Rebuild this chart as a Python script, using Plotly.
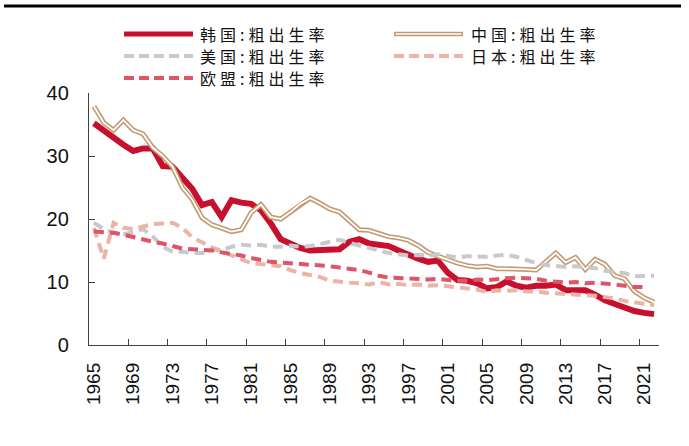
import plotly.graph_objects as go

# ---------------- data ----------------
years = list(range(1965, 2023))

korea = [35.2, 34.0, 32.9, 31.8, 30.8, 31.2, 31.2, 28.4, 28.3, 26.6,
         24.8, 22.2, 22.7, 20.3, 23.0, 22.6, 22.4, 21.4, 19.3, 16.8,
         16.1, 15.4, 15.0, 15.1, 15.1, 15.2, 16.4, 16.8, 16.1, 16.0,
         15.7, 15.0, 14.3, 13.7, 13.2, 13.4, 11.5, 10.3, 10.2, 9.8,
         9.0, 9.2, 10.1, 9.4, 9.1, 9.4, 9.4, 9.6, 8.7, 8.7,
         8.7, 8.0, 7.1, 6.5, 5.9, 5.4, 5.1, 4.9]

china = [37.9, 35.3, 34.1, 35.7, 34.1, 33.5, 31.3, 30.0, 28.3, 25.0,
         23.1, 20.2, 19.1, 18.5, 18.0, 18.3, 21.0, 22.3, 20.3, 20.0,
         21.1, 22.4, 23.3, 22.5, 21.6, 21.1, 19.7, 18.3, 18.2, 17.7,
         17.2, 17.0, 16.6, 15.8, 14.7, 14.1, 13.5, 13.0, 12.6, 12.4,
         12.5, 12.1, 12.1, 12.1, 12.0, 11.9, 13.3, 14.6, 13.1, 13.9,
         12.0, 13.6, 12.8, 11.0, 10.5, 8.5, 7.5, 6.8]

usa = [19.4, 18.4, 17.8, 17.6, 17.9, 18.4, 17.2, 15.6, 14.8, 14.8,
       14.6, 14.6, 15.1, 15.0, 15.6, 15.9, 15.8, 15.9, 15.6, 15.6,
       15.8, 15.6, 15.7, 16.0, 16.4, 16.7, 16.2, 15.8, 15.4, 15.0,
       14.6, 14.4, 14.2, 14.3, 14.2, 14.4, 14.1, 13.9, 14.1, 14.0,
       14.0, 14.2, 14.3, 14.0, 13.5, 13.0, 12.7, 12.6, 12.4, 12.5,
       12.4, 12.2, 11.8, 11.6, 11.4, 10.9, 11.0, 11.0]

japan = [18.6, 13.7, 19.4, 18.6, 18.4, 18.8, 19.2, 19.3, 19.4, 18.6,
         17.1, 16.3, 15.5, 14.9, 14.2, 13.6, 13.0, 12.8, 12.7, 12.5,
         11.9, 11.4, 11.1, 10.8, 10.2, 10.0, 9.9, 9.8, 9.6, 10.0,
         9.6, 9.7, 9.5, 9.6, 9.4, 9.5, 9.3, 9.2, 8.9, 8.8,
         8.4, 8.7, 8.6, 8.7, 8.5, 8.5, 8.3, 8.2, 8.2, 8.0,
         8.0, 7.8, 7.6, 7.4, 7.0, 6.8, 6.6, 6.3]

eu = [18.0, 17.9, 17.8, 17.5, 17.1, 16.7, 16.4, 16.1, 15.7, 15.3,
      15.2, 15.1, 15.0, 14.7, 14.5, 14.2, 13.8, 13.5, 13.2, 13.1,
      13.0, 12.9, 12.8, 12.6, 12.5, 12.3, 12.1, 11.9, 11.5, 11.0,
      10.7, 10.6, 10.5, 10.4, 10.4, 10.5, 10.3, 10.2, 10.2, 10.4,
      10.3, 10.5, 10.6, 10.7, 10.6, 10.5, 10.2, 10.1, 9.9, 10.0,
      9.8, 9.9, 9.8, 9.6, 9.4, 9.2, 9.2, None]

series_names = ["韩国:粗出生率", "中国:粗出生率", "美国:粗出生率", "日本:粗出生率", "欧盟:粗出生率"]
x_tick_years = list(range(1965, 2022, 4))
x_tick_labels = [str(y) for y in x_tick_years]
y_tick_vals = [0, 10, 20, 30, 40]

# ---------------- style ----------------
C_KOREA = "#C8102E"
C_CHINA = "#C29A72"
C_USA = "#C9C9C9"
C_JAPAN = "#ECB4A7"
C_EU = "#E05467"
DASH = "10px,6px"
AXIS_C = "#404040"

W, H = 689, 446
L, R, T, B = 89, 30, 93, 101
PW, PH = W - L - R, H - T - B


def px_x(px):
    return (px - L) / PW


def px_y(py):
    return (H - B - py) / PH


fig = go.Figure()

fig.add_trace(go.Scatter(x=years, y=korea, mode="lines", name=series_names[0],
                         line=dict(color=C_KOREA, width=6), showlegend=False))
fig.add_trace(go.Scatter(x=years, y=china, mode="lines", name=series_names[1],
                         line=dict(color=C_CHINA, width=5), showlegend=False))
fig.add_trace(go.Scatter(x=years, y=china, mode="lines", name=series_names[1],
                         line=dict(color="white", width=1.8), showlegend=False,
                         hoverinfo="skip"))
fig.add_trace(go.Scatter(x=years, y=usa, mode="lines", name=series_names[2],
                         line=dict(color=C_USA, width=4, dash=DASH), showlegend=False))
fig.add_trace(go.Scatter(x=years, y=japan, mode="lines", name=series_names[3],
                         line=dict(color=C_JAPAN, width=4, dash=DASH), showlegend=False))
fig.add_trace(go.Scatter(x=years, y=eu, mode="lines", name=series_names[4],
                         line=dict(color=C_EU, width=4, dash=DASH), showlegend=False))

# ---------------- manual legend ----------------
shapes = []
annotations = []
legend_items = [
    # (name, color, kind, line_x0, line_x1, text_x, row_y)
    (series_names[0], C_KOREA, "solid", 124, 193, 198, 34),
    (series_names[1], C_CHINA, "double", 394, 463, 469, 34),
    (series_names[2], C_USA, "dash", 124, 193, 198, 56),
    (series_names[3], C_JAPAN, "dash", 394, 463, 469, 56),
    (series_names[4], C_EU, "dash", 124, 193, 198, 78),
]
for name, color, kind, x0, x1, tx, ry in legend_items:
    if kind == "solid":
        shapes.append(dict(type="line", xref="paper", yref="paper",
                           x0=px_x(x0), x1=px_x(x1), y0=px_y(ry), y1=px_y(ry),
                           line=dict(color=color, width=5)))
    elif kind == "double":
        shapes.append(dict(type="line", xref="paper", yref="paper",
                           x0=px_x(x0), x1=px_x(x1), y0=px_y(ry), y1=px_y(ry),
                           line=dict(color=color, width=4.5)))
        shapes.append(dict(type="line", xref="paper", yref="paper",
                           x0=px_x(x0 + 1.5), x1=px_x(x1 - 1.5), y0=px_y(ry), y1=px_y(ry),
                           line=dict(color="white", width=1.6)))
    else:
        shapes.append(dict(type="line", xref="paper", yref="paper",
                           x0=px_x(x0), x1=px_x(x1), y0=px_y(ry), y1=px_y(ry),
                           line=dict(color=color, width=4, dash="10px,5px")))
    annotations.append(dict(xref="paper", yref="paper", x=px_x(tx), y=px_y(ry),
                            text='<span style="letter-spacing:4px">' + name + '</span>',
                            showarrow=False, xanchor="left", yanchor="middle",
                            font=dict(family="Noto Sans CJK SC", size=16, color="#111111")))

# top decorative rule
shapes.append(dict(type="line", xref="paper", yref="paper",
                   x0=px_x(4), x1=px_x(681), y0=px_y(6), y1=px_y(6),
                   line=dict(color="black", width=3)))

boundaries = [y + 3.5 for y in x_tick_years[:-1]]

fig.update_layout(
    width=W, height=H, autosize=False,
    margin=dict(l=L, r=R, t=T, b=B, pad=0),
    paper_bgcolor="white", plot_bgcolor="white",
    shapes=shapes, annotations=annotations,
    showlegend=False,
    font=dict(family="Arial, Liberation Sans, sans-serif", color="#111111"),
)

fig.update_xaxes(
    range=[1964.5, 2022.5], showgrid=False, zeroline=False,
    showline=True, linecolor=AXIS_C, linewidth=1.3,
    tickmode="array", tickvals=x_tick_years, ticktext=x_tick_labels,
    ticks="", tickangle=-90, ticklabelstandoff=9,
    tickfont=dict(family="Arial, Liberation Sans, sans-serif", size=19, color="#111111"),
    minor=dict(tickmode="array", tickvals=boundaries, ticks="inside",
               ticklen=6, tickwidth=1.2, tickcolor=AXIS_C, showgrid=False),
)

fig.update_yaxes(
    range=[0, 40], showgrid=False, zeroline=False,
    showline=True, linecolor=AXIS_C, linewidth=1.3,
    tickmode="array", tickvals=y_tick_vals,
    ticks="inside", ticklen=6, tickwidth=1.2, tickcolor=AXIS_C,
    ticklabelstandoff=15,
    tickfont=dict(family="Arial, Liberation Sans, sans-serif", size=20, color="#111111"),
)

fig.write_html("out.html", config={"displayModeBar": False},
               post_script="document.body.style.margin='0';document.body.style.padding='0';")
